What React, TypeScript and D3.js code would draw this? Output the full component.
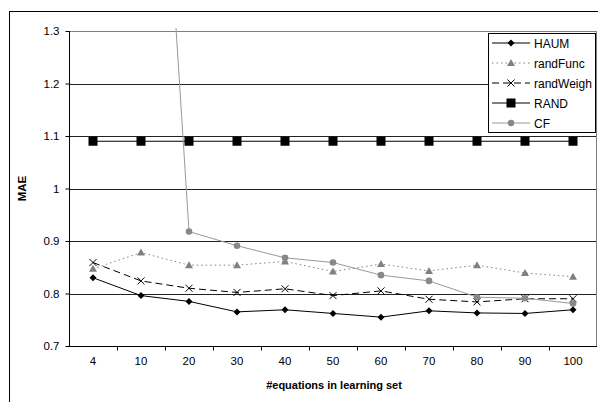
import React, { useRef, useEffect } from 'react'
import * as d3 from 'd3'

const categories = ['4', '10', '20', '30', '40', '50', '60', '70', '80', '90', '100']
const haum = [0.83, 0.796, 0.785, 0.765, 0.769, 0.762, 0.755, 0.767, 0.763, 0.762, 0.769]
const randFunc = [0.847, 0.878, 0.854, 0.854, 0.861, 0.842, 0.856, 0.843, 0.854, 0.839, 0.832]
const randWeigh = [0.859, 0.824, 0.81, 0.802, 0.809, 0.796, 0.805, 0.789, 0.784, 0.79, 0.79]
const rand = [1.09, 1.09, 1.09, 1.09, 1.09, 1.09, 1.09, 1.09, 1.09, 1.09, 1.09]
const cf = [null, 2.35, 0.918, 0.891, 0.868, 0.859, 0.835, 0.824, 0.793, 0.791, 0.781]
const yTicks = [0.7, 0.8, 0.9, 1, 1.1, 1.2, 1.3]

const series = [
  { name: 'HAUM', values: haum, color: '#000', dash: null, marker: 'diamond', fill: '#000' },
  { name: 'randFunc', values: randFunc, color: '#808080', dash: '1.5,3', marker: 'triangle', fill: '#808080' },
  { name: 'randWeigh', values: randWeigh, color: '#000', dash: '7,4', marker: 'cross', fill: '#000' },
  { name: 'RAND', values: rand, color: '#000', dash: null, marker: 'square', fill: '#000' },
  { name: 'CF', values: cf, color: '#999', dash: null, marker: 'circle', fill: '#888' }
]

const W = 598
const H = 402
const margin = { top: 31, right: 1, bottom: 56, left: 69 }
const font = 'Liberation Sans, Arial, sans-serif'

const drawMarker = (g, type, x, y, fill) => {
  if (type === 'diamond') {
    g.append('path').attr('d', `M${x},${y - 3.5}L${x + 3.5},${y}L${x},${y + 3.5}L${x - 3.5},${y}Z`).attr('fill', fill)
  } else if (type === 'triangle') {
    g.append('path').attr('d', `M${x},${y - 4}L${x + 4},${y + 3}L${x - 4},${y + 3}Z`).attr('fill', fill)
  } else if (type === 'cross') {
    g.append('path').attr('d', `M${x - 3.5},${y - 3.5}L${x + 3.5},${y + 3.5}M${x - 3.5},${y + 3.5}L${x + 3.5},${y - 3.5}`)
      .attr('stroke', fill).attr('stroke-width', 1)
  } else if (type === 'square') {
    g.append('rect').attr('x', x - 4.5).attr('y', y - 4.5).attr('width', 9).attr('height', 9).attr('fill', fill)
  } else {
    g.append('circle').attr('cx', x).attr('cy', y).attr('r', 3.3).attr('fill', fill)
  }
}

export default function App() {
  const ref = useRef(null)

  useEffect(() => {
    if (!ref.current) return
    const svg = d3.select(ref.current)
    svg.selectAll('*').remove()

    const x = d3.scaleBand().domain(categories).range([margin.left, W - margin.right])
    const y = d3.scaleLinear().domain([0.7, 1.3]).range([H - margin.bottom, margin.top])
    const cx = c => x(c) + x.bandwidth() / 2

    // outer frame
    svg.append('rect').attr('x', 9.5).attr('y', 11.5).attr('width', 700).attr('height', 500)
      .attr('fill', '#fff').attr('stroke', '#000')

    // gridlines
    svg.append('g').selectAll('line').data(yTicks.slice(1, -1)).join('line')
      .attr('x1', margin.left).attr('x2', W - margin.right)
      .attr('y1', d => Math.round(y(d)) + 0.5).attr('y2', d => Math.round(y(d)) + 0.5)
      .attr('stroke', '#222')

    // plot border
    svg.append('rect').attr('x', margin.left + 0.5).attr('y', margin.top + 0.5)
      .attr('width', W - margin.right - margin.left - 1).attr('height', H - margin.bottom - margin.top)
      .attr('fill', 'none').attr('stroke', '#808080')

    // y axis
    const yAxis = svg.append('g').attr('transform', `translate(${margin.left + 0.5},0)`)
      .call(d3.axisLeft(y).tickValues(yTicks).tickSize(4).tickPadding(6).tickFormat(d => d3.format('')(d)))
    yAxis.select('.domain').attr('stroke', '#000').attr('d', `M0,${margin.top}V${H - margin.bottom}`)
    yAxis.selectAll('.tick line').attr('stroke', '#000')
    yAxis.selectAll('text').attr('font-family', font).attr('font-size', 11.5).attr('fill', '#000')

    // x axis
    const xAxis = svg.append('g').attr('transform', `translate(0,${Math.round(y(0.7)) + 0.5})`)
    xAxis.append('line').attr('x1', margin.left).attr('x2', W - margin.right).attr('stroke', '#000')
    xAxis.selectAll('line.t').data(categories.slice(1)).join('line').attr('class', 't')
      .attr('x1', d => Math.round(x(d)) + 0.5).attr('x2', d => Math.round(x(d)) + 0.5)
      .attr('y1', 0).attr('y2', 4).attr('stroke', '#000')
    xAxis.selectAll('text').data(categories).join('text')
      .attr('x', d => cx(d)).attr('y', 18).attr('text-anchor', 'middle')
      .attr('font-family', font).attr('font-size', 11.5).text(d => d)

    // axis titles
    svg.append('text').attr('transform', `translate(26,${y(1)}) rotate(-90)`).attr('text-anchor', 'middle')
      .attr('font-family', font).attr('font-size', 11.5).attr('font-weight', 'bold').text('MAE')
    svg.append('text').attr('x', 334).attr('y', 389).attr('text-anchor', 'middle')
      .attr('font-family', font).attr('font-size', 11).attr('font-weight', 'bold')
      .text('#equations in learning set')

    svg.append('clipPath').attr('id', 'plotclip').append('rect')
      .attr('x', margin.left).attr('y', margin.top - 3).attr('width', W - margin.left).attr('height', H - margin.bottom - margin.top + 6)

    const line = d3.line().defined(d => d.v != null).x(d => cx(d.c)).y(d => y(d.v))
    series.forEach(s => {
      const pts = categories.map((c, i) => ({ c, v: s.values[i] }))
      svg.append('path').datum(pts).attr('d', line).attr('fill', 'none')
        .attr('stroke', s.color).attr('stroke-width', 1).attr('stroke-dasharray', s.dash)
        .attr('clip-path', 'url(#plotclip)')
      const mg = svg.append('g')
      pts.filter(p => p.v != null && p.v <= 1.3).forEach(p => drawMarker(mg, s.marker, cx(p.c), y(p.v), s.fill))
    })

    // legend
    const lg = svg.append('g').attr('transform', 'translate(488,33)')
    lg.append('rect').attr('x', 0.5).attr('y', 0.5).attr('width', 107).attr('height', 99)
      .attr('fill', '#fff').attr('stroke', '#000')
    series.forEach((s, i) => {
      const ly = 10 + i * 20
      lg.append('line').attr('x1', 4).attr('x2', 42).attr('y1', ly).attr('y2', ly)
        .attr('stroke', s.color).attr('stroke-dasharray', s.dash)
      drawMarker(lg, s.marker, 23, ly, s.fill)
      lg.append('text').attr('x', 46).attr('y', ly + 4.5)
        .attr('font-family', font).attr('font-size', 12).text(s.name)
    })
  }, [])

  return (
    <div style={{ position: 'fixed', left: 0, top: 0 }}>
      <svg ref={ref} width={W} height={H} style={{ display: 'block', background: '#fff' }} />
    </div>
  )
}
